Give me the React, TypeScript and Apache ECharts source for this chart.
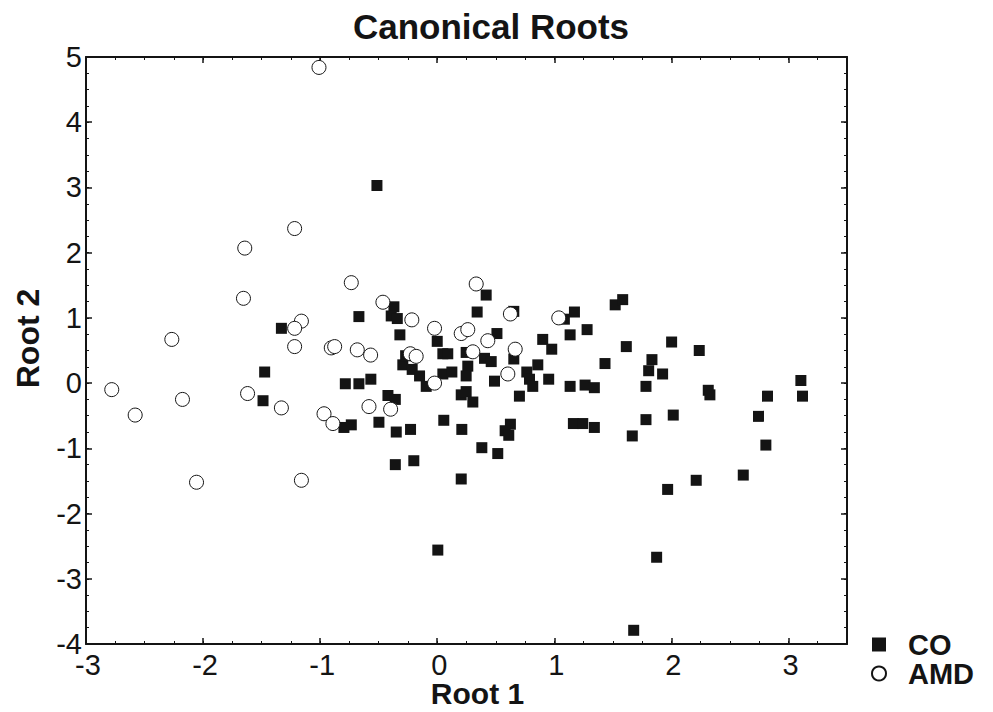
import React, { useEffect, useRef } from "react";
import * as echarts from "echarts";

const coRoot1 = [
  -0.669, -0.37, -0.393, -0.341, -0.319, -1.331, -1.474, -1.488, -0.785, -0.669,
  -0.567, -0.421, -0.358, -0.498, -0.797, -0.734, -0.35, -0.228, -0.358, -0.2,
  -0.294, -0.214, -0.151, -0.094, -0.27, 0.0, 0.048, 0.09, 0.048, 0.125,
  0.247, 0.261, 0.247, 0.205, 0.247, 0.304, 0.056, 0.21, 0.341, 0.418,
  0.51, 0.404, 0.461, 0.489, 0.381, 0.517, 0.205, 0.654, 1.172, 1.086,
  1.28, 1.135, 0.901, 0.978, 1.52, 1.584, 0.654, 0.859, 0.765, 0.788,
  0.816, 0.952, 1.433, 1.135, 1.263, 1.342, 0.702, 0.625, 0.58, 0.611,
  1.163, 1.243, 1.342, 1.615, 2.002, 2.238, 1.834, 1.806, 1.925, 1.783,
  2.315, 2.329, 3.106, 2.821, 3.12, 2.016, 1.783, 2.744, 1.666, 2.807,
  1.968, 2.212, 2.614, 1.874, 1.678, 0.005, -0.515,
];
const coRoot2 = [
  1.02, 1.17, 1.03, 0.99, 0.74, 0.84, 0.17, -0.27, -0.01, -0.01,
  0.06, -0.19, -0.25, -0.6, -0.68, -0.64, -0.75, -0.71, -1.25, -1.19,
  0.28, 0.21, 0.11, -0.05, 0.42, 0.64, 0.45, 0.45, 0.14, 0.17,
  0.47, 0.26, 0.11, -0.18, -0.13, -0.29, -0.57, -0.71, 1.09, 1.35,
  0.76, 0.38, 0.33, 0.03, -0.99, -1.08, -1.47, 1.1, 1.09, 0.98,
  0.82, 0.74, 0.67, 0.52, 1.2, 1.28, 0.37, 0.28, 0.17, 0.06,
  -0.05, 0.06, 0.3, -0.05, -0.03, -0.07, -0.2, -0.63, -0.73, -0.8,
  -0.62, -0.62, -0.68, 0.56, 0.63, 0.5, 0.36, 0.19, 0.14, -0.05,
  -0.11, -0.18, 0.04, -0.2, -0.2, -0.49, -0.56, -0.51, -0.81, -0.95,
  -1.63, -1.49, -1.41, -2.67, -3.79, -2.56, 3.03,
];

const amdRoot1 = [
  -1.644, -1.655, -0.734, -0.464, -0.217, -1.16, -1.218, -1.218, -2.267, -0.905,
  -0.876, -0.683, -0.569, -0.23, -0.18, -0.023, 0.205, 0.261, 0.333, 0.432,
  0.304, -0.023, -2.78, -2.58, -2.176, -1.62, -1.331, -0.967, -0.891, -0.583,
  -0.398, -1.01, -1.218, -2.056, -1.16, 0.625, 1.038, 0.666, 0.603,
];
const amdRoot2 = [
  2.07, 1.3, 1.54, 1.24, 0.97, 0.95, 0.84, 0.56, 0.67, 0.54,
  0.56, 0.51, 0.43, 0.45, 0.41, 0.84, 0.76, 0.82, 1.52, 0.65,
  0.48, 0.0, -0.1, -0.49, -0.25, -0.16, -0.38, -0.47, -0.62, -0.36,
  -0.4, 4.84, 2.37, -1.52, -1.49, 1.06, 1.0, 0.52, 0.14,
];

const seriesNames = ["CO", "AMD"];
const chartTitle = "Canonical Roots";
const xTitle = "Root 1";
const yTitle = "Root 2";

const FONT = "'Liberation Sans', Arial, Helvetica, sans-serif";
const INK = "#141414";

export default function App() {
  const ref = useRef<HTMLDivElement>(null);

  useEffect(() => {
    if (!ref.current) return;
    const chart = echarts.init(ref.current, undefined, { renderer: "svg" });

    const co = coRoot1.map((x, i) => [x, coRoot2[i]]);
    const amd = amdRoot1.map((x, i) => [x, amdRoot2[i]]);

    const xBase = { type: "value", min: -3, max: 3.5, splitLine: { show: false } };
    const yBase = { type: "value", min: -4, max: 5, splitLine: { show: false } };
    const majorLine = { show: true, onZero: false, lineStyle: { color: INK, width: 2 } };
    const hiddenLine = { show: false, onZero: false };
    const noLabel = { show: false };
    const majorTick = { show: true, inside: true, length: 6, lineStyle: { color: INK, width: 1.5 } };
    const minorTickStyle = { show: true, inside: true, length: 3, lineStyle: { color: INK, width: 1 } };

    const option: any = {
      animation: false,
      backgroundColor: "#fff",
      title: {
        text: chartTitle,
        left: 486,
        textAlign: "center",
        top: 4,
        textStyle: { fontFamily: FONT, fontSize: 35, fontWeight: "bold", color: INK },
      },
      grid: {
        left: 86,
        top: 57,
        right: 146,
        bottom: 68,
        containLabel: false,
        outerBoundsMode: "none",
      },
      legend: {
        orient: "vertical",
        left: 866,
        top: 625,
        itemWidth: 14,
        itemHeight: 14,
        itemGap: 0,
        data: seriesNames,
        textStyle: {
          fontFamily: FONT,
          fontSize: 29,
          fontWeight: "bold",
          color: INK,
          lineHeight: 28,
          padding: [0, 0, 0, 17],
        },
      },
      xAxis: [
        {
          ...xBase,
          position: "bottom",
          interval: 1,
          axisLine: majorLine,
          axisTick: majorTick,
          axisLabel: {
            show: true,
            fontFamily: FONT,
            fontSize: 29,
            lineHeight: 20,
            color: INK,
            margin: 11,
            padding: [0, 0, 0, 4],
            showMaxLabel: false,
            formatter: (v: number) => (Number.isInteger(v) ? String(v) : ""),
          },
          name: xTitle,
          nameLocation: "middle",
          nameGap: 36,
          nameMoveOverlap: false,
          nameTextStyle: {
            fontFamily: FONT,
            fontSize: 30,
            lineHeight: 26,
            fontWeight: "bold",
            color: INK,
            padding: [0, 0, 0, 22],
          },
        },
        {
          ...xBase,
          position: "bottom",
          interval: 0.25,
          axisLine: hiddenLine,
          axisTick: minorTickStyle,
          axisLabel: noLabel,
        },
        {
          ...xBase,
          position: "top",
          interval: 1,
          axisLine: majorLine,
          axisTick: majorTick,
          axisLabel: noLabel,
        },
        {
          ...xBase,
          position: "top",
          interval: 0.25,
          axisLine: hiddenLine,
          axisTick: minorTickStyle,
          axisLabel: noLabel,
        },
      ],
      yAxis: [
        {
          ...yBase,
          position: "left",
          interval: 1,
          axisLine: majorLine,
          axisTick: majorTick,
          axisLabel: {
            show: true,
            fontFamily: FONT,
            fontSize: 29,
            lineHeight: 20,
            color: INK,
            margin: 4,
          },
          name: yTitle,
          nameLocation: "middle",
          nameGap: 42,
          nameRotate: 90,
          nameTextStyle: {
            fontFamily: FONT,
            fontSize: 32,
            fontWeight: "bold",
            color: INK,
            padding: [0, 0, 0, 24],
          },
        },
        {
          ...yBase,
          position: "left",
          interval: 0.25,
          axisLine: hiddenLine,
          axisTick: minorTickStyle,
          axisLabel: noLabel,
        },
        {
          ...yBase,
          position: "right",
          interval: 1,
          axisLine: majorLine,
          axisTick: majorTick,
          axisLabel: noLabel,
        },
        {
          ...yBase,
          position: "right",
          interval: 0.25,
          axisLine: hiddenLine,
          axisTick: minorTickStyle,
          axisLabel: noLabel,
        },
      ],
      series: [
        {
          name: seriesNames[0],
          type: "scatter",
          xAxisIndex: 0,
          yAxisIndex: 0,
          symbol: "rect",
          symbolSize: 11,
          itemStyle: { color: INK, opacity: 1 },
          data: co,
          z: 2,
        },
        {
          name: seriesNames[1],
          type: "scatter",
          xAxisIndex: 0,
          yAxisIndex: 0,
          symbol: "circle",
          symbolSize: 14,
          itemStyle: { color: "#ffffff", borderColor: INK, borderWidth: 1, opacity: 1 },
          data: amd,
          z: 3,
        },
      ],
    };

    chart.setOption(option);
    return () => chart.dispose();
  }, []);

  return (
    <div
      ref={ref}
      style={{ position: "fixed", left: 0, top: 0, width: 993, height: 712, background: "#fff" }}
    />
  );
}
